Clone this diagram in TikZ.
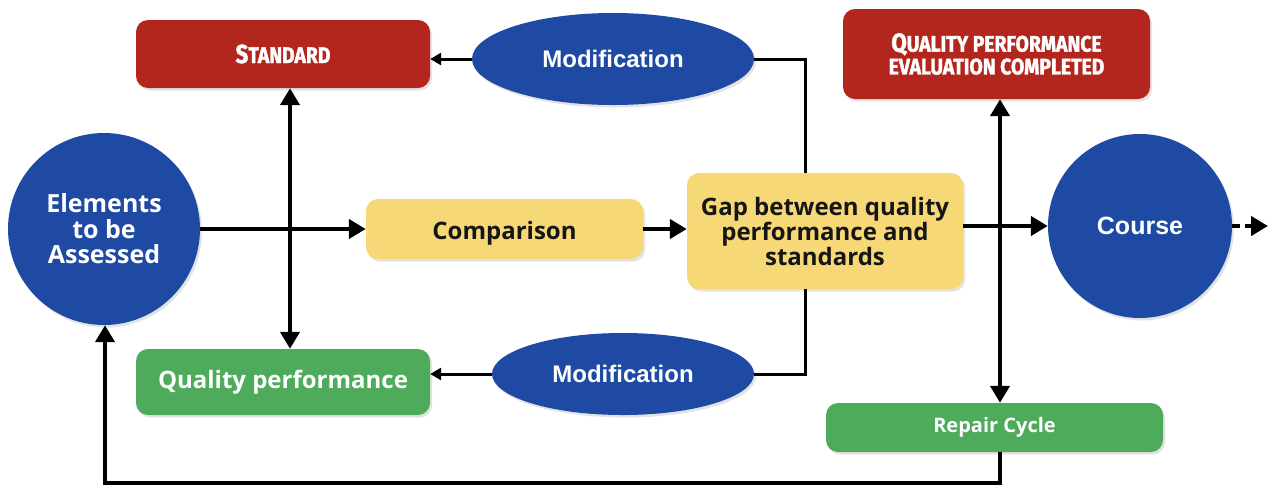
\documentclass[tikz,border=0pt]{standalone}
\usepackage{fontspec}
\setmainfont{Open Sans}
\newfontfamily\arialfont{Liberation Sans}
\newfontfamily\headfont[FakeStretch=0.86,FakeBold=1.6]{Fira Sans}
\usetikzlibrary{arrows.meta,shapes.geometric,shadows}

\definecolor{boxred}{HTML}{B3261E}
\definecolor{boxblue}{HTML}{1E4AA3}
\definecolor{boxyellow}{HTML}{F7D877}
\definecolor{boxgreen}{HTML}{4EAB5B}
\definecolor{ink}{HTML}{151515}

\newcommand{\capbig}[1]{{\fontsize{26}{26}\selectfont #1}}
\newcommand{\capsmall}[1]{{\fontsize{22.5}{23}\selectfont #1}}

\tikzset{
  softshadow/.style={drop shadow={opacity=0.22,shadow xshift=2pt,shadow yshift=-2.5pt}},
  box/.style={rectangle, rounded corners=12pt, inner sep=0pt, align=center, softshadow},
  redbox/.style={box, fill=boxred, text=white, font=\headfont\bfseries},
  yellowbox/.style={box, fill=boxyellow, text=ink, font=\fontsize{24}{25}\selectfont\bfseries},
  greenbox/.style={box, fill=boxgreen, text=white, font=\fontsize{24}{25}\selectfont\bfseries},
  bluecirc/.style={circle, fill=boxblue, text=white, inner sep=0pt, align=center, softshadow},
  blueell/.style={ellipse, fill=boxblue, text=white, inner sep=0pt, softshadow,
    font=\arialfont\bfseries\fontsize{24}{26}\selectfont},
  flow/.style={line width=4.5pt, draw=black},
  modline/.style={line width=3pt, draw=black},
  >={Triangle[length=17pt,width=19pt]},
  smalltip/.tip={Triangle[length=11pt,width=12pt]},
}

\begin{document}
\begin{tikzpicture}[x=1pt,y=-1pt]
  \fill[white] (0,0) rectangle (1271,491);
  \useasboundingbox (0,0) rectangle (1271,491);

  % nodes
  \node[bluecirc, minimum size=192pt, font=\fontsize{25}{25.5}\selectfont\bfseries]
    (elem) at (104,229) {Elements\\to be\\Assessed};
  \node[redbox, minimum width=294pt, minimum height=68pt]
    (std) at (283,54) {\capbig{S}\capsmall{TANDARD}};
  \node[blueell, minimum width=282pt, minimum height=92pt]
    (modtop) at (613,59) {Modification};
  \node[redbox, minimum width=307pt, minimum height=90pt]
    (done) at (996.5,54) {\capbig{Q}\capsmall{UALITY PERFORMANCE}\\[2pt]\capsmall{EVALUATION COMPLETED}};
  \node[yellowbox, minimum width=277pt, minimum height=60pt]
    (cmp) at (504.5,229) {\raisebox{-10pt}[0pt][0pt]{Comparison}};
  \node[yellowbox, minimum width=276pt, minimum height=116pt]
    (gap) at (825,231) {Gap between quality\\performance and\\standards};
  \node[bluecirc, minimum size=184pt, font=\arialfont\bfseries\fontsize{25}{26}\selectfont]
    (course) at (1140,226) {Course};
  \node[greenbox, minimum width=294pt, minimum height=66pt]
    (qp) at (283,382) {Quality performance};
  \node[blueell, minimum width=262pt, minimum height=82pt]
    (modbot) at (623,374) {Modification};
  \node[greenbox, minimum width=337pt, minimum height=49pt, font=\fontsize{20}{22}\selectfont\bfseries]
    (rep) at (994.5,427.5) {Repair Cycle};
  \coordinate (onward) at (1268,226);

  % main flow
  \draw[flow,->] (elem) -- (cmp);
  \draw[flow,->] (cmp.east) -- (cmp.east -| gap.west);
  \draw[flow,->] (gap.east |- course) -- (course);
  \draw[flow,->,dash pattern=on 8pt off 5pt] (course.east) -- (onward);

  % standard / performance link
  \draw[flow,<->] ([xshift=7pt]std.south) -- ([xshift=7pt]qp.north);
  % evaluation / repair link
  \draw[flow,<->] ([xshift=3.5pt]done.south) -- ([xshift=3.5pt]done.south |- rep.north);

  % modification loops
  \draw[modline] ([xshift=-20pt]gap.north) |- (modtop.east);
  \draw[modline,-smalltip] (modtop.west) -- (modtop.west -| std.east);
  \draw[modline] ([xshift=-20pt]gap.south) |- (modbot.east);
  \draw[modline,-smalltip] (modbot.west) -- (modbot.west -| qp.east);

  % repair cycle back to the elements
  \draw[flow,->] ([xshift=5.5pt]rep.south) -- ++(0,31) -| ([xshift=1pt]elem.south);
\end{tikzpicture}
\end{document}
